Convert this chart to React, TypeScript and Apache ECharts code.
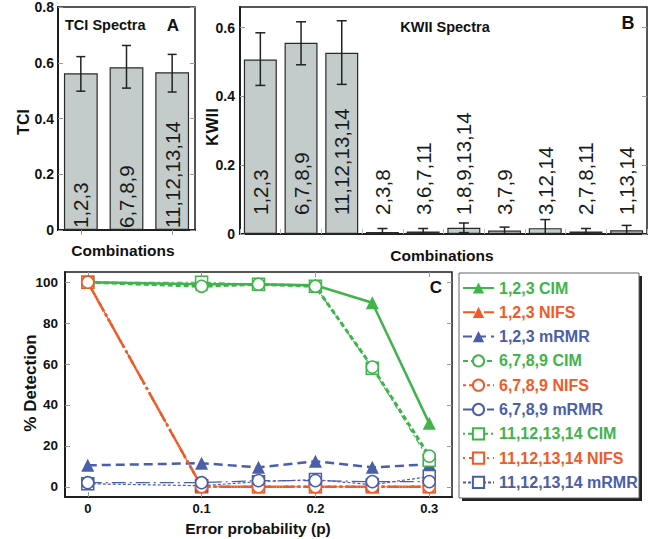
import React, { useEffect, useRef } from "react";
import * as echarts from "echarts";

const tciCategories = ["1,2,3", "6,7,8,9", "11,12,13,14"];
const tciValues = [0.562, 0.584, 0.566];
const tciErrLow = [0.498, 0.509, 0.495];
const tciErrHigh = [0.622, 0.662, 0.63];

const kwiiCategories = ["1,2,3", "6,7,8,9", "11,12,13,14", "2,3,8", "3,6,7,11", "1,8,9,13,14", "3,7,9", "3,12,14", "2,7,8,11", "1,13,14"];
const kwiiValues = [0.507, 0.556, 0.527, 0.006, 0.007, 0.018, 0.01, 0.017, 0.007, 0.011];
const kwiiErrLow = [0.432, 0.492, 0.435, 0, 0, 0.004, 0, 0, 0, 0];
const kwiiErrHigh = [0.585, 0.617, 0.62, 0.016, 0.016, 0.032, 0.02, 0.042, 0.016, 0.025];
const kwiiTicks = [0, 0.2, 0.4, 0.6];

const errorProb = [0, 0.1, 0.15, 0.2, 0.25, 0.3];
const pTicks = [0, 0.1, 0.2, 0.3];
const detTicks = [0, 20, 40, 60, 80, 100];
const cim123 = [100, 99, 99, 98.5, 90, 31];
const nifs123 = [100, 0, 0, 0, 0, 0];
const mrmr123 = [10.5, 11.5, 9.5, 12.5, 9.5, 11];
const cim6789 = [100, 98, 99, 98, 58.5, 15];
const nifs6789 = [100, 0, 0, 0, 0, 0];
const mrmr6789 = [2, 2, 3, 3, 2.5, 2.5];
const cim11 = [100, 100, 99, 98, 58, 13];
const nifs11 = [100, 0, 0, 0, 0, 0];
const mrmr11 = [1.5, 0.5, 2.5, 3.5, 1, 5];

const GREEN = "#3fb44b";
const RED = "#f05a28";
const BLUE = "#4a5eaa";
const FONT = "Liberation Sans, Arial, sans-serif";

export default function App() {
  const ref = useRef<HTMLDivElement>(null);
  useEffect(() => {
    if (!ref.current) return;
    const chart = echarts.init(ref.current, undefined, { renderer: "svg" });

    const errRender = (w: number) => (params: any, api: any) => {
      const x = api.value(0);
      const lo = api.coord([x, api.value(1)]);
      const hi = api.coord([x, api.value(2)]);
      const style = { stroke: "#222", lineWidth: 1.5 };
      return {
        type: "group",
        children: [
          { type: "line", shape: { x1: hi[0], y1: hi[1], x2: lo[0], y2: lo[1] }, style },
          { type: "line", shape: { x1: hi[0] - w, y1: hi[1], x2: hi[0] + w, y2: hi[1] }, style },
          { type: "line", shape: { x1: lo[0] - w, y1: lo[1], x2: lo[0] + w, y2: lo[1] }, style },
        ],
      };
    };

    const barLabel = (dist: number) => ({
      show: true,
      position: "insideBottom",
      distance: dist,
      rotate: 90,
      align: "left",
      verticalAlign: "middle",
      color: "#1a1a1a",
      fontSize: 20.5,
      fontFamily: FONT,
      formatter: (p: any) => p.name,
    });

    const axisLineStyle = { onZero: false, lineStyle: { color: "#1e1e1e", width: 2 } };
    const tickLabel = { fontWeight: "bold", fontSize: 14, color: "#111", fontFamily: FONT };
    const innerTick = { show: true, inside: true, length: 5, lineStyle: { color: "#999", width: 1 } };

    const lineSeries = (name: string, vals: number[], color: string, symbol: string, open: boolean, lineType: any, width: number, z: number, size: number) => ({
      name,
      type: "line",
      xAxisIndex: 3,
      yAxisIndex: 4,
      data: errorProb.map((p, i) => [p, vals[i]]),
      color,
      symbol,
      symbolSize: size,
      showAllSymbol: true,
      z,
      lineStyle: { color, type: lineType, width },
      itemStyle: open ? { color: "#fff", borderColor: color, borderWidth: 1.5 } : { color, borderColor: color, borderWidth: 0 },
    });

    const option: any = {
      animation: false,
      backgroundColor: "#fff",
      textStyle: { fontFamily: FONT },
      grid: [
        { left: 58, top: 7, width: 137, height: 223, show: true, borderColor: "#1e1e1e", borderWidth: 1.5, backgroundColor: "transparent" },
        { left: 240, top: 7, width: 407, height: 227, show: true, borderColor: "#1e1e1e", borderWidth: 1.5, backgroundColor: "transparent" },
        { left: 65, top: 272, width: 387, height: 225, show: true, borderColor: "#1e1e1e", borderWidth: 1.5, backgroundColor: "transparent" },
      ],
      xAxis: [
        { type: "category", gridIndex: 0, data: tciCategories, axisLabel: { show: false }, axisTick: { show: false }, axisLine: axisLineStyle },
        { type: "category", gridIndex: 0, position: "top", data: tciCategories, axisLabel: { show: false }, axisLine: { show: false }, axisTick: { ...innerTick, alignWithLabel: true } },
        { type: "category", gridIndex: 1, data: kwiiCategories, axisLabel: { show: false }, axisTick: { ...innerTick, interval: 0, lineStyle: { color: "#bbb" } }, axisLine: axisLineStyle },
        {
          type: "value", gridIndex: 2, min: -0.02, max: 0.32, splitLine: { show: false }, axisLine: axisLineStyle,
          axisLabel: { ...tickLabel, fontSize: 13, margin: 5, lineHeight: 13, customValues: pTicks, formatter: (v: number) => (v === 0 ? "0" : String(v)) },
          axisTick: { ...innerTick, customValues: pTicks },
        },
        {
          type: "value", gridIndex: 2, position: "top", min: -0.02, max: 0.32, splitLine: { show: false }, axisLine: { show: false, onZero: false },
          axisLabel: { show: false }, axisTick: { ...innerTick, customValues: pTicks },
        },
      ],
      yAxis: [
        { type: "value", gridIndex: 0, min: 0, max: 0.8, interval: 0.2, splitLine: { show: false }, axisLine: { show: true, ...axisLineStyle }, axisTick: innerTick, axisLabel: { ...tickLabel, margin: 4 } },
        { type: "value", gridIndex: 0, position: "right", min: 0, max: 0.8, interval: 0.2, splitLine: { show: false }, axisLine: { show: false, onZero: false }, axisTick: innerTick, axisLabel: { show: false } },
        {
          type: "value", gridIndex: 1, min: 0, max: 0.66, splitLine: { show: false }, axisLine: { show: true, ...axisLineStyle },
          axisTick: { ...innerTick, customValues: kwiiTicks }, axisLabel: { ...tickLabel, margin: 5, customValues: kwiiTicks },
        },
        {
          type: "value", gridIndex: 1, position: "right", min: 0, max: 0.66, splitLine: { show: false }, axisLine: { show: false, onZero: false },
          axisTick: { ...innerTick, customValues: kwiiTicks }, axisLabel: { show: false },
        },
        {
          type: "value", gridIndex: 2, min: -5, max: 105, splitLine: { show: false }, axisLine: { show: true, ...axisLineStyle },
          axisTick: { ...innerTick, customValues: detTicks }, axisLabel: { ...tickLabel, fontSize: 13.5, margin: 7, customValues: detTicks },
        },
        {
          type: "value", gridIndex: 2, position: "right", min: -5, max: 105, splitLine: { show: false }, axisLine: { show: false, onZero: false },
          axisTick: { ...innerTick, customValues: detTicks }, axisLabel: { show: false },
        },
      ],
      legend: {
        orient: "vertical",
        left: 462,
        top: 280,
        itemWidth: 31,
        itemHeight: 14,
        itemGap: 8.3,
        padding: 0,
        selectedMode: false,
        textStyle: { fontSize: 16, fontWeight: "bold", fontFamily: FONT },
        data: [
          { name: "1,2,3 CIM", textStyle: { color: GREEN } },
          { name: "1,2,3 NIFS", textStyle: { color: RED } },
          { name: "1,2,3 mRMR", textStyle: { color: BLUE } },
          { name: "6,7,8,9 CIM", textStyle: { color: GREEN } },
          { name: "6,7,8,9 NIFS", textStyle: { color: RED } },
          { name: "6,7,8,9 mRMR", textStyle: { color: BLUE } },
          { name: "11,12,13,14 CIM", textStyle: { color: GREEN } },
          { name: "11,12,13,14 NIFS", textStyle: { color: RED } },
          { name: "11,12,13,14 mRMR", textStyle: { color: BLUE } },
        ],
      },
      graphic: [
        { type: "rect", shape: { x: 462, y: 276, width: 180, height: 225 }, style: { fill: "#222" }, z: 0 },
        { type: "rect", shape: { x: 459, y: 273, width: 180, height: 225 }, style: { fill: "#fff", stroke: "#666", lineWidth: 1 }, z: 1 },
        { type: "text", x: 65, y: 25, style: { text: "TCI Spectra", font: `bold 14.5px ${FONT}`, fill: "#111", textAlign: "left", textVerticalAlign: "middle" }, z: 10 },
        { type: "text", x: 173, y: 25, style: { text: "A", font: `bold 17px ${FONT}`, fill: "#111", textAlign: "center", textVerticalAlign: "middle" }, z: 10 },
        { type: "text", x: 445, y: 27, style: { text: "KWII Spectra", font: `bold 14.5px ${FONT}`, fill: "#111", textAlign: "center", textVerticalAlign: "middle" }, z: 10 },
        { type: "text", x: 628, y: 23, style: { text: "B", font: `bold 18px ${FONT}`, fill: "#111", textAlign: "center", textVerticalAlign: "middle" }, z: 10 },
        { type: "text", x: 436, y: 287, style: { text: "C", font: `bold 17px ${FONT}`, fill: "#111", textAlign: "center", textVerticalAlign: "middle" }, z: 10 },
        { type: "text", x: 23, y: 122, rotation: Math.PI / 2, style: { text: "TCI", font: `bold 16px ${FONT}`, fill: "#111", textAlign: "center", textVerticalAlign: "middle" }, z: 10 },
        { type: "text", x: 212, y: 127, rotation: Math.PI / 2, style: { text: "KWII", font: `bold 17px ${FONT}`, fill: "#111", textAlign: "center", textVerticalAlign: "middle" }, z: 10 },
        { type: "text", x: 30, y: 383, rotation: Math.PI / 2, style: { text: "% Detection", font: `bold 17px ${FONT}`, fill: "#111", textAlign: "center", textVerticalAlign: "middle" }, z: 10 },
        { type: "text", x: 123, y: 250, style: { text: "Combinations", font: `bold 15.5px ${FONT}`, fill: "#111", textAlign: "center", textVerticalAlign: "middle" }, z: 10 },
        { type: "text", x: 442, y: 255, style: { text: "Combinations", font: `bold 15.5px ${FONT}`, fill: "#111", textAlign: "center", textVerticalAlign: "middle" }, z: 10 },
        { type: "text", x: 258, y: 528, style: { text: "Error probability (p)", font: `bold 15.5px ${FONT}`, fill: "#111", textAlign: "center", textVerticalAlign: "middle" }, z: 10 },
      ],
      series: [
        {
          type: "bar", xAxisIndex: 0, yAxisIndex: 0, data: tciValues, barWidth: "74%",
          itemStyle: { color: "#c3cbcb", borderColor: "#2a2a2a", borderWidth: 1.2 },
          label: barLabel(2),
        },
        {
          type: "custom", xAxisIndex: 0, yAxisIndex: 0, renderItem: errRender(4.5), z: 5,
          data: tciCategories.map((c, i) => [i, tciErrLow[i], tciErrHigh[i]]), encode: { x: 0, y: [1, 2] },
        },
        {
          type: "bar", xAxisIndex: 2, yAxisIndex: 2, data: kwiiValues, barWidth: "81%",
          itemStyle: { color: "#c3cbcb", borderColor: "#2a2a2a", borderWidth: 1.2 },
          label: barLabel(19),
        },
        {
          type: "custom", xAxisIndex: 2, yAxisIndex: 2, renderItem: errRender(5), z: 5,
          data: kwiiCategories.map((c, i) => [i, kwiiErrLow[i], kwiiErrHigh[i]]), encode: { x: 0, y: [1, 2] },
        },
        lineSeries("1,2,3 CIM", cim123, GREEN, "triangle", false, "solid", 2.5, 2, 13),
        lineSeries("1,2,3 NIFS", nifs123, RED, "triangle", false, [12, 3, 3, 3], 2.5, 2, 13),
        lineSeries("1,2,3 mRMR", mrmr123, BLUE, "triangle", false, [9, 5], 2.5, 2, 13),
        lineSeries("11,12,13,14 CIM", cim11, GREEN, "rect", true, [2, 3, 6, 3], 1.2, 3, 12),
        lineSeries("11,12,13,14 NIFS", nifs11, RED, "rect", true, [2, 4, 14, 4], 1.2, 3, 12),
        lineSeries("11,12,13,14 mRMR", mrmr11, BLUE, "rect", true, [3, 2], 1.2, 3, 12),
        lineSeries("6,7,8,9 CIM", cim6789, GREEN, "circle", true, [5, 3], 3, 4, 12),
        lineSeries("6,7,8,9 NIFS", nifs6789, RED, "circle", true, [3, 3], 2.5, 4, 12),
        lineSeries("6,7,8,9 mRMR", mrmr6789, BLUE, "circle", true, [14, 4, 2, 4], 1.2, 4, 12),
      ],
    };
    chart.setOption(option);
    return () => chart.dispose();
  }, []);
  return <div ref={ref} style={{ position: "fixed", left: 0, top: 0, width: 650, height: 539, background: "#fff" }} />;
}
